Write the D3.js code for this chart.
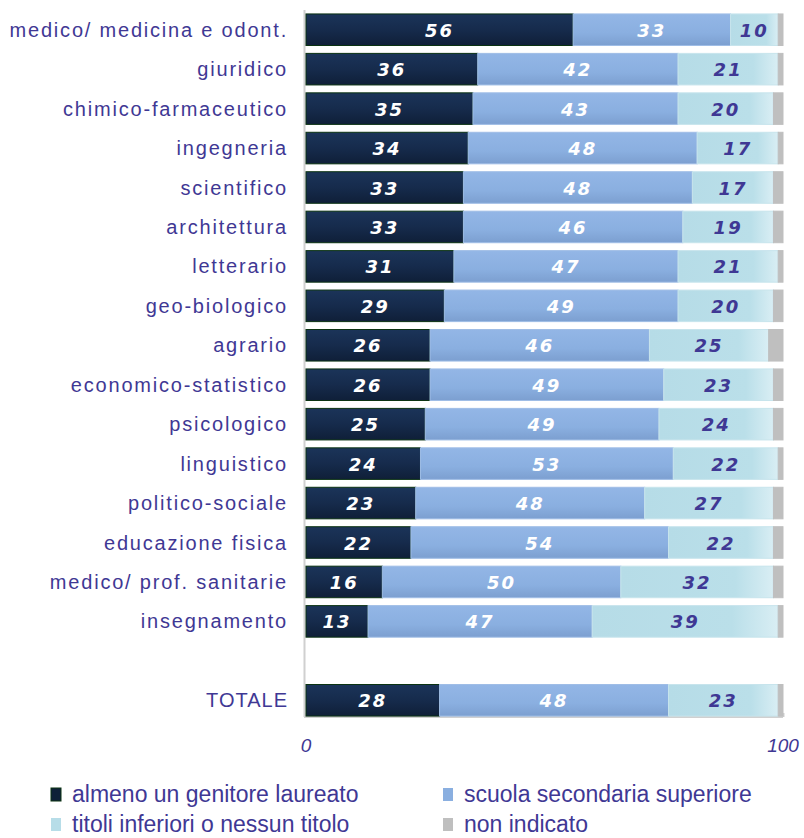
<!DOCTYPE html>
<html><head><meta charset="utf-8">
<script src="https://cdn.jsdelivr.net/npm/d3@7"></script>
<style>body{margin:0;background:#fff}</style>
</head><body>
<svg id="c" width="804" height="838"></svg>
<script>
const categories = ["medico/ medicina e odont.","giuridico","chimico-farmaceutico","ingegneria","scientifico","architettura","letterario","geo-biologico","agrario","economico-statistico","psicologico","linguistico","politico-sociale","educazione fisica","medico/ prof. sanitarie","insegnamento","","TOTALE"];
const laureato   = [56,36,35,34,33,33,31,29,26,26,25,24,23,22,16,13,null,28];
const secondaria = [33,42,43,48,48,46,47,49,46,49,49,53,48,54,50,47,null,48];
const inferiori  = [10,21,20,17,17,19,21,20,25,23,24,22,27,22,32,39,null,23];
const nonInd     = [1,1,2,1,2,2,1,2,3,2,2,1,2,2,2,1,null,1];
const seriesNames = ["almeno un genitore laureato","scuola secondaria superiore","titoli inferiori o nessun titolo","non indicato"];
const xTicks = [0,100];

const svg = d3.select("#c");
const purple = "#3f3894";
const x = d3.scaleLinear().domain([0,100]).range([306,783]);
const y = d3.scaleBand().domain(categories.map((c,i)=>i)).range([10,720]).paddingInner(0.2).paddingOuter(0.1);

const defs = svg.append("defs");
function grad(id, stops, vertical){
  const g = defs.append("linearGradient").attr("id",id)
    .attr("x1",0).attr("y1",0).attr("x2",vertical?0:1).attr("y2",vertical?1:0);
  stops.forEach(s=>g.append("stop").attr("offset",s[0]).attr("stop-color",s[1]));
}
grad("gDark",[[0,"#1b3459"],[0.5,"#162b4c"],[1,"#0f1f38"]],true);
grad("gMid",[[0,"#93b6e6"],[0.6,"#8aafe0"],[1,"#7c9fd0"]],true);
grad("gLight",[[0,"#b6dce7"],[0.75,"#badfe9"],[1,"#d9eef4"]],false);

const fills = ["url(#gDark)","url(#gMid)","url(#gLight)","#bfbfbf"];
const strokes = ["#0b3312","#9fbde6","#c7e4ec","#bfbfbf"];
const textCol = ["#ffffff","#ffffff",purple,null];
const series = [laureato, secondaria, inferiori, nonInd];

// axes lines
svg.append("line").attr("x1",304.5).attr("x2",304.5).attr("y1",10).attr("y2",717).attr("stroke","#d0d0d0").attr("stroke-width",2);
const xAxis = d3.axisBottom(x).tickValues(xTicks).tickSize(-4).tickFormat("");
const ax = svg.append("g").attr("transform","translate(0,717)").call(xAxis);
ax.select(".domain").attr("stroke","#d0d0d0").attr("stroke-width",2).attr("d","M304,0H783");
ax.selectAll(".tick line").attr("stroke","#d0d0d0").attr("stroke-width",2);
xTicks.forEach(t=>{
  svg.append("text").attr("x",x(t)).attr("y",752).attr("text-anchor","middle")
    .attr("font-family","Liberation Sans, Arial, sans-serif").attr("font-style","italic")
    .attr("font-size",19).attr("fill",purple).text(t);
});

categories.forEach((c,i)=>{
  if(laureato[i]==null) return;
  let cum=0;
  const yy=y(i), h=y.bandwidth();
  series.forEach((s,k)=>{
    const v=s[i];
    svg.append("rect").attr("x",x(cum)).attr("y",yy).attr("width",x(cum+v)-x(cum)).attr("height",h)
      .attr("fill",fills[k]).attr("stroke",strokes[k]).attr("stroke-width",1);
    if(textCol[k]){
      svg.append("text").attr("x",(x(cum)+x(cum+v))/2).attr("y",yy+h/2+7).attr("text-anchor","middle")
        .attr("font-family","DejaVu Sans, Verdana, sans-serif").attr("font-weight","bold").attr("font-style","italic")
        .attr("font-size",18).attr("letter-spacing","2px").attr("fill",textCol[k]).text(v);
    }
    cum+=v;
  });
  svg.append("text").attr("x",288).attr("y",yy+h/2+7).attr("text-anchor","end")
    .attr("font-family","Liberation Sans, Arial, sans-serif").attr("font-size",20)
    .attr("letter-spacing",c==="TOTALE"?"1px":"1.8px")
    .attr("fill",purple).text(c);
});

// legend
const legPos = [[51,795],[443,795],[51,825],[443,825]];
seriesNames.forEach((n,k)=>{
  const [lx,ly]=legPos[k];
  svg.append("rect").attr("x",lx).attr("y",ly-7).attr("width",10).attr("height",13)
    .attr("fill",["#0e2038","#8aafe0","#b7dde8","#bfbfbf"][k]).attr("stroke",k===0?"#0b3312":"none");
  svg.append("text").attr("x",lx+21).attr("y",ly+7).attr("font-family","Liberation Sans Narrow, Liberation Sans, Arial, sans-serif")
    .attr("font-size",23).attr("fill",purple).text(n);
});
</script>
</body></html>
